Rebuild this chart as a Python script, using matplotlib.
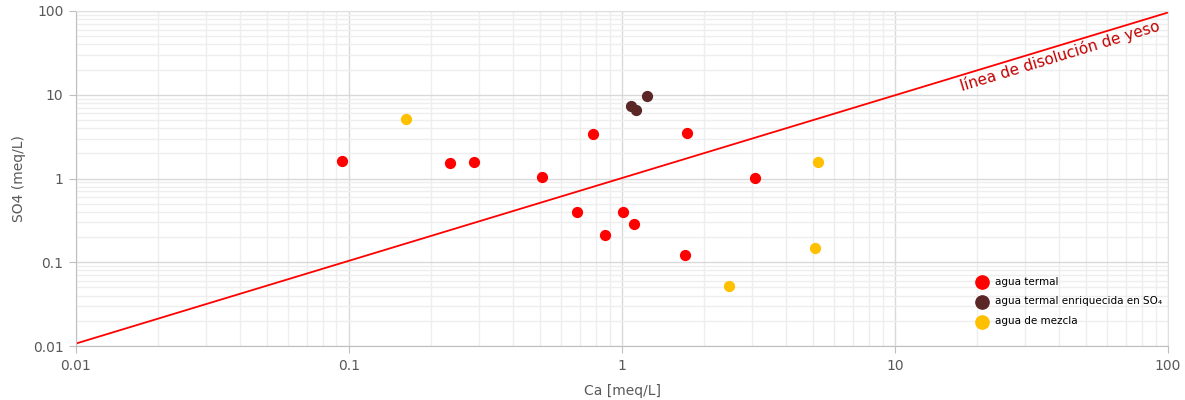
import matplotlib
matplotlib.use("Agg")
import matplotlib.pyplot as plt
from matplotlib import ticker

# Data (Ca vs SO4, meq/L)
termal_ca = [0.094, 0.234, 0.287, 0.509, 0.783, 0.684, 1.01, 0.867, 1.107, 1.73, 1.70, 3.07]
termal_so4 = [1.62, 1.53, 1.58, 1.04, 3.40, 0.40, 0.40, 0.211, 0.286, 3.50, 0.122, 1.01]

enriq_ca = [1.08, 1.125, 1.236]
enriq_so4 = [7.34, 6.57, 9.66]

mezcla_ca = [0.162, 5.22, 5.09, 2.47]
mezcla_so4 = [5.13, 1.57, 0.148, 0.052]

line_ca = [0.01, 100]
line_so4 = [0.0107, 96]

ticks = [0.01, 0.1, 1, 10, 100]

fig = plt.figure(figsize=(11.85, 4), dpi=100)
ax = fig.add_axes([0.0641, 0.135, 0.9216, 0.8375])

ax.set_xscale("log")
ax.set_yscale("log")
ax.set_xlim(0.01, 100)
ax.set_ylim(0.01, 100)

# grid
ax.grid(which="major", color="#d9d9d9", linewidth=1.0)
ax.grid(which="minor", color="#eeeeee", linewidth=1.0)
ax.set_axisbelow(True)

ax.plot(line_ca, line_so4, color="#ff0000", linewidth=1.3, zorder=2)

ax.scatter(termal_ca, termal_so4, s=50, color="#ff0000", label="agua termal", zorder=3)
ax.scatter(enriq_ca, enriq_so4, s=50, color="#5a2626", label="agua termal enriquecida en SO₄", zorder=3)
ax.scatter(mezcla_ca, mezcla_so4, s=50, color="#ffc000", label="agua de mezcla", zorder=3)

ax.text(17, 15.5, "línea de disolución de yeso", color="#c00000", fontsize=11,
        rotation=17, rotation_mode="anchor", ha="left", va="top")

ax.set_xticks(ticks)
ax.set_yticks(ticks)
fmt = ticker.FuncFormatter(lambda v, p: "%g" % v)
ax.xaxis.set_major_formatter(fmt)
ax.yaxis.set_major_formatter(fmt)
ax.xaxis.set_minor_formatter(ticker.NullFormatter())
ax.yaxis.set_minor_formatter(ticker.NullFormatter())
ax.tick_params(which="major", length=5, color="#bfbfbf", labelcolor="#595959", labelsize=10, pad=4)
ax.tick_params(which="minor", length=0)

for side in ["left", "bottom"]:
    ax.spines[side].set_color("#bfbfbf")
for side in ["top", "right"]:
    ax.spines[side].set_color("#e0e0e0")

ax.set_xlabel("Ca [meq/L]", color="#595959", fontsize=10, labelpad=8)
ax.set_ylabel("SO4 (meq/L)", color="#595959", fontsize=10, labelpad=5)

ax.legend(loc="lower right", frameon=False, fontsize=7.5, markerscale=1.35,
          handletextpad=0.45, handlelength=1.6, labelspacing=0.95,
          borderaxespad=0.2, bbox_to_anchor=(1.0, 0.04))

fig.savefig("out.png")
